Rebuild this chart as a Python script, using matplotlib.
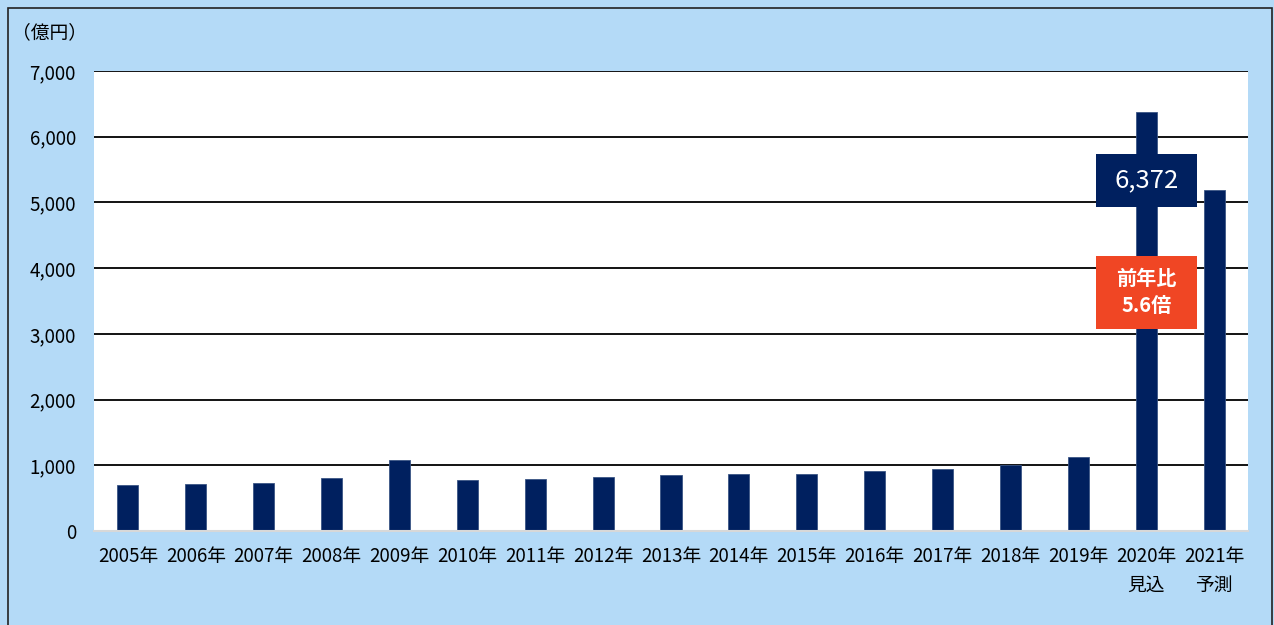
import matplotlib
matplotlib.use('Agg')
import matplotlib.pyplot as plt
from matplotlib.patches import Rectangle
import numpy as np

plt.rcParams['font.family'] = ['Noto Sans CJK JP', 'DejaVu Sans']

# data
years = ['2005年', '2006年', '2007年', '2008年', '2009年', '2010年', '2011年',
         '2012年', '2013年', '2014年', '2015年', '2016年', '2017年', '2018年',
         '2019年', '2020年\n見込', '2021年\n予測']
values = [700, 711, 726, 807, 1076, 772, 795, 820, 850, 860, 870, 910,
          939, 1004, 1131, 6372, 5194]
yticks = [0, 1000, 2000, 3000, 4000, 5000, 6000, 7000]

navy = '#00205F'
bg = '#B4DAF7'

fig = plt.figure(figsize=(12.74, 6.25), dpi=100)
fig.patch.set_facecolor(bg)
# outer frame
fig.add_artist(Rectangle((8 / 1274, -0.01), (1272 - 8) / 1274, 1 - 8 / 625 + 0.01,
                         transform=fig.transFigure, fill=False,
                         edgecolor='#222222', linewidth=1.2))

ax = fig.add_axes([94 / 1274, 1 - 531 / 625, (1248 - 94) / 1274, (531 - 71) / 625])
ax.set_facecolor('white')

x = np.arange(len(years))
ax.bar(x, values, width=0.31, color=navy, edgecolor='#3a5585', linewidth=0.6, zorder=3)

ax.set_xlim(-0.5, len(years) - 0.5)
ax.set_ylim(0, 7000)
ax.set_yticks(yticks)
ax.set_yticklabels([f'{v:,}' for v in yticks], fontsize=13.5)
ax.set_xticks(x)
ax.set_xticklabels(years, fontsize=13.5, linespacing=1.45)
ax.tick_params(length=0)
ax.tick_params(axis='x', pad=11)
ax.tick_params(axis='y', pad=13)
ax.grid(axis='y', color='black', linewidth=1.3, zorder=1)
for side in ['top', 'right', 'left']:
    ax.spines[side].set_visible(False)
ax.spines['bottom'].set_color('#d8d8d8')
ax.spines['bottom'].set_linewidth(1.5)
ax.spines['bottom'].set_zorder(4)

fig.text(12 / 1274, 1 - 33 / 625, '（億円）', fontsize=13.5, va='center', ha='left')

# callouts on 2020
i20 = 15
bw = 1.49
ax.add_patch(Rectangle((i20 - bw / 2, 4931), bw, 807, facecolor=navy,
                       edgecolor='none', zorder=5))
ax.text(i20, 5335, f'{values[i20]:,}', color='white', fontsize=18.5,
        ha='center', va='center', zorder=6)
ax.add_patch(Rectangle((i20 - bw / 2, 3075), bw, 1111, facecolor='#F04624',
                       edgecolor='none', zorder=5))
ax.text(i20, 3630, '前年比\n5.6倍', color='white', fontsize=14.5, fontweight='bold',
        ha='center', va='center', linespacing=1.35, zorder=6)

fig.savefig('out.png', dpi=100, facecolor=fig.get_facecolor())
